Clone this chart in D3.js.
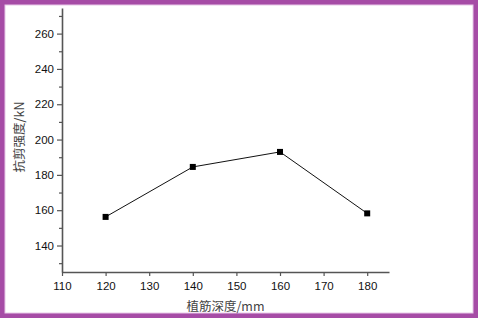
<!DOCTYPE html>
<meta charset="utf-8">
<style>
body { margin: 0; }
.axis path, .axis line { stroke: #555; }
.axis text { font-family: "Liberation Sans", Arial, sans-serif; font-size: 11.5px; fill: #111; }
.label { font-family: "Noto Sans CJK SC", sans-serif; font-size: 12.5px; fill: #444; }
</style>
<svg width="478" height="318"></svg>
<script src="https://d3js.org/d3.v7.min.js"></script>
<script>

var depth = [120, 140, 160, 180],
    strength = [156.2, 184.5, 193, 158.2];

var xTicks = [110, 120, 130, 140, 150, 160, 170, 180],
    yTicks = [140, 160, 180, 200, 220, 240, 260],
    yMinor = [130, 150, 170, 190, 210, 230, 250, 270];

var svg = d3.select("svg"),
    width = +svg.attr("width"),
    height = +svg.attr("height");

// purple frame
svg.append("rect").attr("width", width).attr("height", height).attr("fill", "#a64ca6");
svg.append("rect").attr("x", 5).attr("y", 5).attr("width", width - 10).attr("height", height - 10)
    .attr("fill", "#fff").attr("stroke", "#e8c8e8").attr("stroke-width", 1);

var x = d3.scaleLinear().domain([110, 185]).range([62, 389]),
    y = d3.scaleLinear().domain([125, 274.5]).range([272, 8]);

// minor y ticks
svg.append("g")
    .attr("class", "axis")
    .attr("transform", "translate(62,0)")
    .call(d3.axisLeft(y).tickValues(yMinor).tickSize(3).tickFormat(""))
    .select(".domain").remove();

svg.append("g")
    .attr("class", "axis")
    .attr("transform", "translate(62,0)")
    .call(d3.axisLeft(y).tickValues(yTicks).tickSize(5).tickSizeOuter(0).tickPadding(3))
    .select(".domain").attr("stroke-width", 1.6);

svg.append("g")
    .attr("class", "axis")
    .attr("transform", "translate(0,272)")
    .call(d3.axisBottom(x).tickValues(xTicks).tickSize(4).tickSizeOuter(0).tickPadding(6))
    .select(".domain").attr("stroke-width", 1.6);

svg.selectAll(".axis .tick line").attr("stroke-width", 1.2);

var line = d3.line()
    .x(function(d, i) { return x(depth[i]); })
    .y(function(d) { return y(d); });

svg.append("path")
    .datum(strength)
    .attr("fill", "none")
    .attr("stroke", "#111")
    .attr("stroke-width", 1)
    .attr("d", line);

svg.selectAll(".pt")
    .data(strength)
    .enter().append("rect")
      .attr("class", "pt")
      .attr("x", function(d, i) { return x(depth[i]) - 3; })
      .attr("y", function(d) { return y(d) - 3; })
      .attr("width", 6)
      .attr("height", 6)
      .attr("fill", "#000");

svg.append("text")
    .attr("class", "label")
    .attr("x", 225.5)
    .attr("y", 311)
    .attr("text-anchor", "middle")
    .text("植筋深度/mm");

svg.append("text")
    .attr("class", "label")
    .attr("transform", "translate(24,137) rotate(-90)")
    .attr("text-anchor", "middle")
    .text("抗剪强度/kN");

</script>
